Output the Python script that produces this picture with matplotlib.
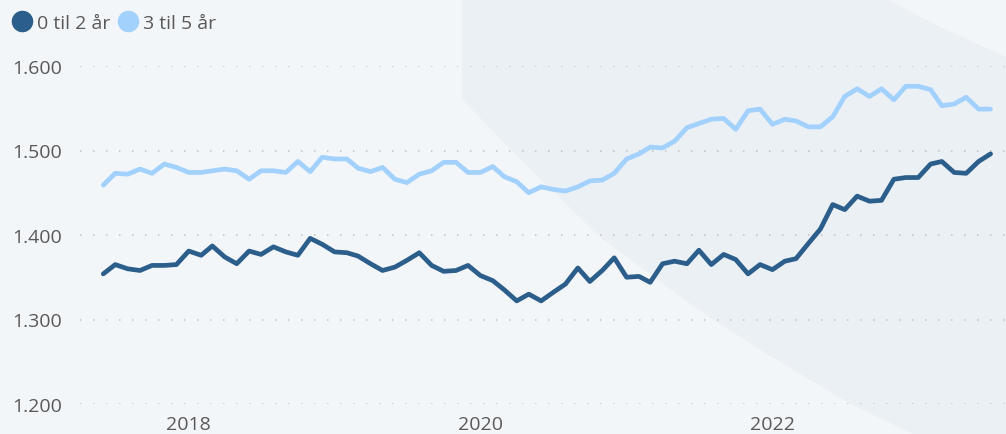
import numpy as np
import pandas as pd
import matplotlib
matplotlib.use('Agg')
import matplotlib.pyplot as plt
import matplotlib.dates as mdates
from matplotlib.lines import Line2D
from matplotlib.ticker import FuncFormatter, FixedLocator
from datetime import datetime

plt.rcParams['font.family'] = ['Open Sans', 'DejaVu Sans']

# maanedlige data, juni 2017 - juli 2023
datoer = pd.date_range('2017-06-01', periods=74, freq='MS')

serie_navn = ['0 til 2 år', '3 til 5 år']

alder_0_2 = [1354, 1365, 1360, 1358, 1364, 1364, 1365, 1381, 1376, 1387,
             1374, 1366, 1381, 1377, 1386, 1380, 1376, 1396, 1389, 1380,
             1379, 1375, 1366, 1358, 1362, 1370, 1379, 1364, 1357, 1358,
             1364, 1352, 1346, 1335, 1322, 1330, 1322, 1332, 1342, 1361,
             1345, 1358, 1373, 1350, 1351, 1344, 1366, 1369, 1366, 1382,
             1365, 1377, 1371, 1354, 1365, 1359, 1369, 1372, 1390, 1407,
             1436, 1430, 1446, 1440, 1441, 1466, 1468, 1468, 1484, 1487,
             1474, 1473, 1487, 1496]

alder_3_5 = [1459, 1473, 1472, 1478, 1473, 1484, 1480, 1474, 1474, 1476,
             1478, 1476, 1466, 1476, 1476, 1474, 1487, 1475, 1492, 1490,
             1490, 1479, 1475, 1480, 1466, 1462, 1472, 1476, 1486, 1486,
             1474, 1474, 1481, 1469, 1463, 1450, 1457, 1454, 1452, 1457,
             1464, 1465, 1473, 1490, 1496, 1504, 1503, 1511, 1527, 1532,
             1537, 1538, 1525, 1547, 1549, 1531, 1537, 1535, 1528, 1528,
             1540, 1564, 1573, 1564, 1573, 1560, 1576, 1576, 1572, 1553,
             1555, 1563, 1549, 1549]

y_ticks = [1200, 1300, 1400, 1500, 1600]

farger = ['#2c5e8c', '#a2d1fd']
tekstfarge = '#595959'

W, H = 1006, 435
fig = plt.figure(figsize=(W / 100, H / 100), dpi=100)
fig.patch.set_facecolor('#f3f6f9')

# bakgrunnsform
bg = fig.add_axes([0, 0, 1, 1], zorder=-5)
bg.set_xlim(0, W)
bg.set_ylim(H, 0)
bg.axis('off')
t = np.linspace(0, 1, 60)
kx = np.array([462, 520, 600, 700, 767, 847, 913])
ky = np.array([100, 160, 238, 312, 355, 403, 435])
ss = np.linspace(0, 1, len(kx))
cx = np.interp(t, ss, kx)
cy = np.interp(t, ss, ky)
poly_x = np.concatenate([[462], cx, [W, W, 1006, 940, 887]])
poly_y = np.concatenate([[0], cy, [H, 58, 58, 28, 0]])
bg.fill(poly_x, poly_y, color='#ebf0f5', lw=0)

# hovedakse
ax = fig.add_axes([80 / W, (H - 405) / H, (W - 80) / W, (405 - 67) / H])
ax.patch.set_alpha(0)

ax.plot(datoer, alder_0_2, color=farger[0], lw=3.4, solid_capstyle='round',
        solid_joinstyle='round', zorder=4, clip_on=False)
ax.plot(datoer, alder_3_5, color=farger[1], lw=3.4, solid_capstyle='round',
        solid_joinstyle='round', zorder=3, clip_on=False)

x0 = mdates.date2num(datetime(2020, 1, 1))
ppd = 0.3995
ax.set_xlim(x0 - (480.4 - 80) / ppd, x0 + (W - 480.4) / ppd)
ax.set_ylim(1200, 1600)

ax.yaxis.set_major_locator(FixedLocator(y_ticks))
ax.yaxis.set_major_formatter(FuncFormatter(lambda v, p: f"{v:,.0f}".replace(',', '.')))
ax.xaxis.set_major_locator(mdates.YearLocator(base=2))
ax.xaxis.set_major_formatter(mdates.DateFormatter('%Y'))

ax.grid(axis='y', linestyle=(0, (0.8, 6.4)), lw=1.3, color='#c6c8cb', zorder=1)
ax.grid(axis='x', visible=False)
ax.set_axisbelow(True)
for s in ax.spines.values():
    s.set_visible(False)
ax.tick_params(axis='both', length=0, labelsize=14, labelcolor=tekstfarge)
ax.tick_params(axis='y', pad=13)
ax.tick_params(axis='x', pad=8)

# tegnforklaring
handles = [Line2D([], [], marker='o', ls='none', markersize=14.5, color=c) for c in farger]
fig.legend(handles, serie_navn, loc='upper left', bbox_to_anchor=(0.0, 1 - 3 / H),
           ncol=2, frameon=False, fontsize=14, labelcolor=tekstfarge,
           handletextpad=0.25, columnspacing=0.45, handlelength=1.0,
           borderaxespad=0.23, borderpad=0.4)

fig.savefig('out.png', dpi=100, facecolor=fig.get_facecolor())
